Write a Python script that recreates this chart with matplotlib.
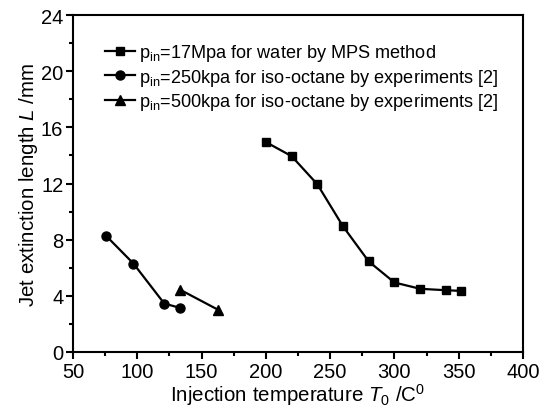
import matplotlib
matplotlib.use('Agg')
import matplotlib.pyplot as plt

plt.rcParams['font.family'] = 'Liberation Sans'
plt.rcParams['mathtext.fontset'] = 'custom'
plt.rcParams['mathtext.rm'] = 'Liberation Sans'
plt.rcParams['mathtext.it'] = 'Liberation Sans:italic'

# water, MPS method
t_water = [200, 220, 240, 260, 280, 300, 320, 340, 352]
L_water = [14.95, 13.95, 11.95, 8.95, 6.45, 4.95, 4.5, 4.4, 4.35]
# iso-octane 250 kpa
t_250 = [76, 97, 121, 133]
L_250 = [8.25, 6.3, 3.45, 3.15]
# iso-octane 500 kpa
t_500 = [133, 163]
L_500 = [4.45, 3.0]

labels = ['p$_{\\rm in}$=17Mpa for water by MPS method',
          'p$_{\\rm in}$=250kpa for iso-octane by experiments [2]',
          'p$_{\\rm in}$=500kpa for iso-octane by experiments [2]']

fig = plt.figure(figsize=(5.41, 4.14), dpi=100)
ax = fig.add_axes([73/541, 1 - 353/414, 450/541, 337/414])

ax.plot(t_water, L_water, 'k-', marker='s', ms=5.5, lw=1.6, label=labels[0])
ax.plot(t_250, L_250, 'k-', marker='o', ms=6.5, lw=1.6, label=labels[1])
ax.plot(t_500, L_500, 'k-', marker='^', ms=7, lw=1.6, label=labels[2])

ax.set_xlim(50, 400)
ax.set_ylim(0, 24)
ax.set_xticks(range(50, 401, 50))
ax.set_xticks(range(75, 400, 50), minor=True)
ax.set_yticks(range(0, 25, 4))
ax.set_yticks(range(2, 24, 4), minor=True)
ax.tick_params(which='major', length=5, width=1.5, labelsize=14.5, pad=2)
ax.tick_params(which='minor', length=3, width=1.5)
for s in ax.spines.values():
    s.set_linewidth(1.5)

ax.set_xlabel('Injection temperature $T_0$ /C$^0$', fontsize=14.8, labelpad=0)
ax.set_ylabel('Jet extinction length $L$ /mm', fontsize=14.8, labelpad=1)

ax.legend(loc='upper left', bbox_to_anchor=(0.055, 0.94), frameon=False,
          fontsize=13.1, handlelength=1.65, handletextpad=0.2, labelspacing=0.18,
          borderaxespad=0)

fig.savefig('out.png', dpi=100)
